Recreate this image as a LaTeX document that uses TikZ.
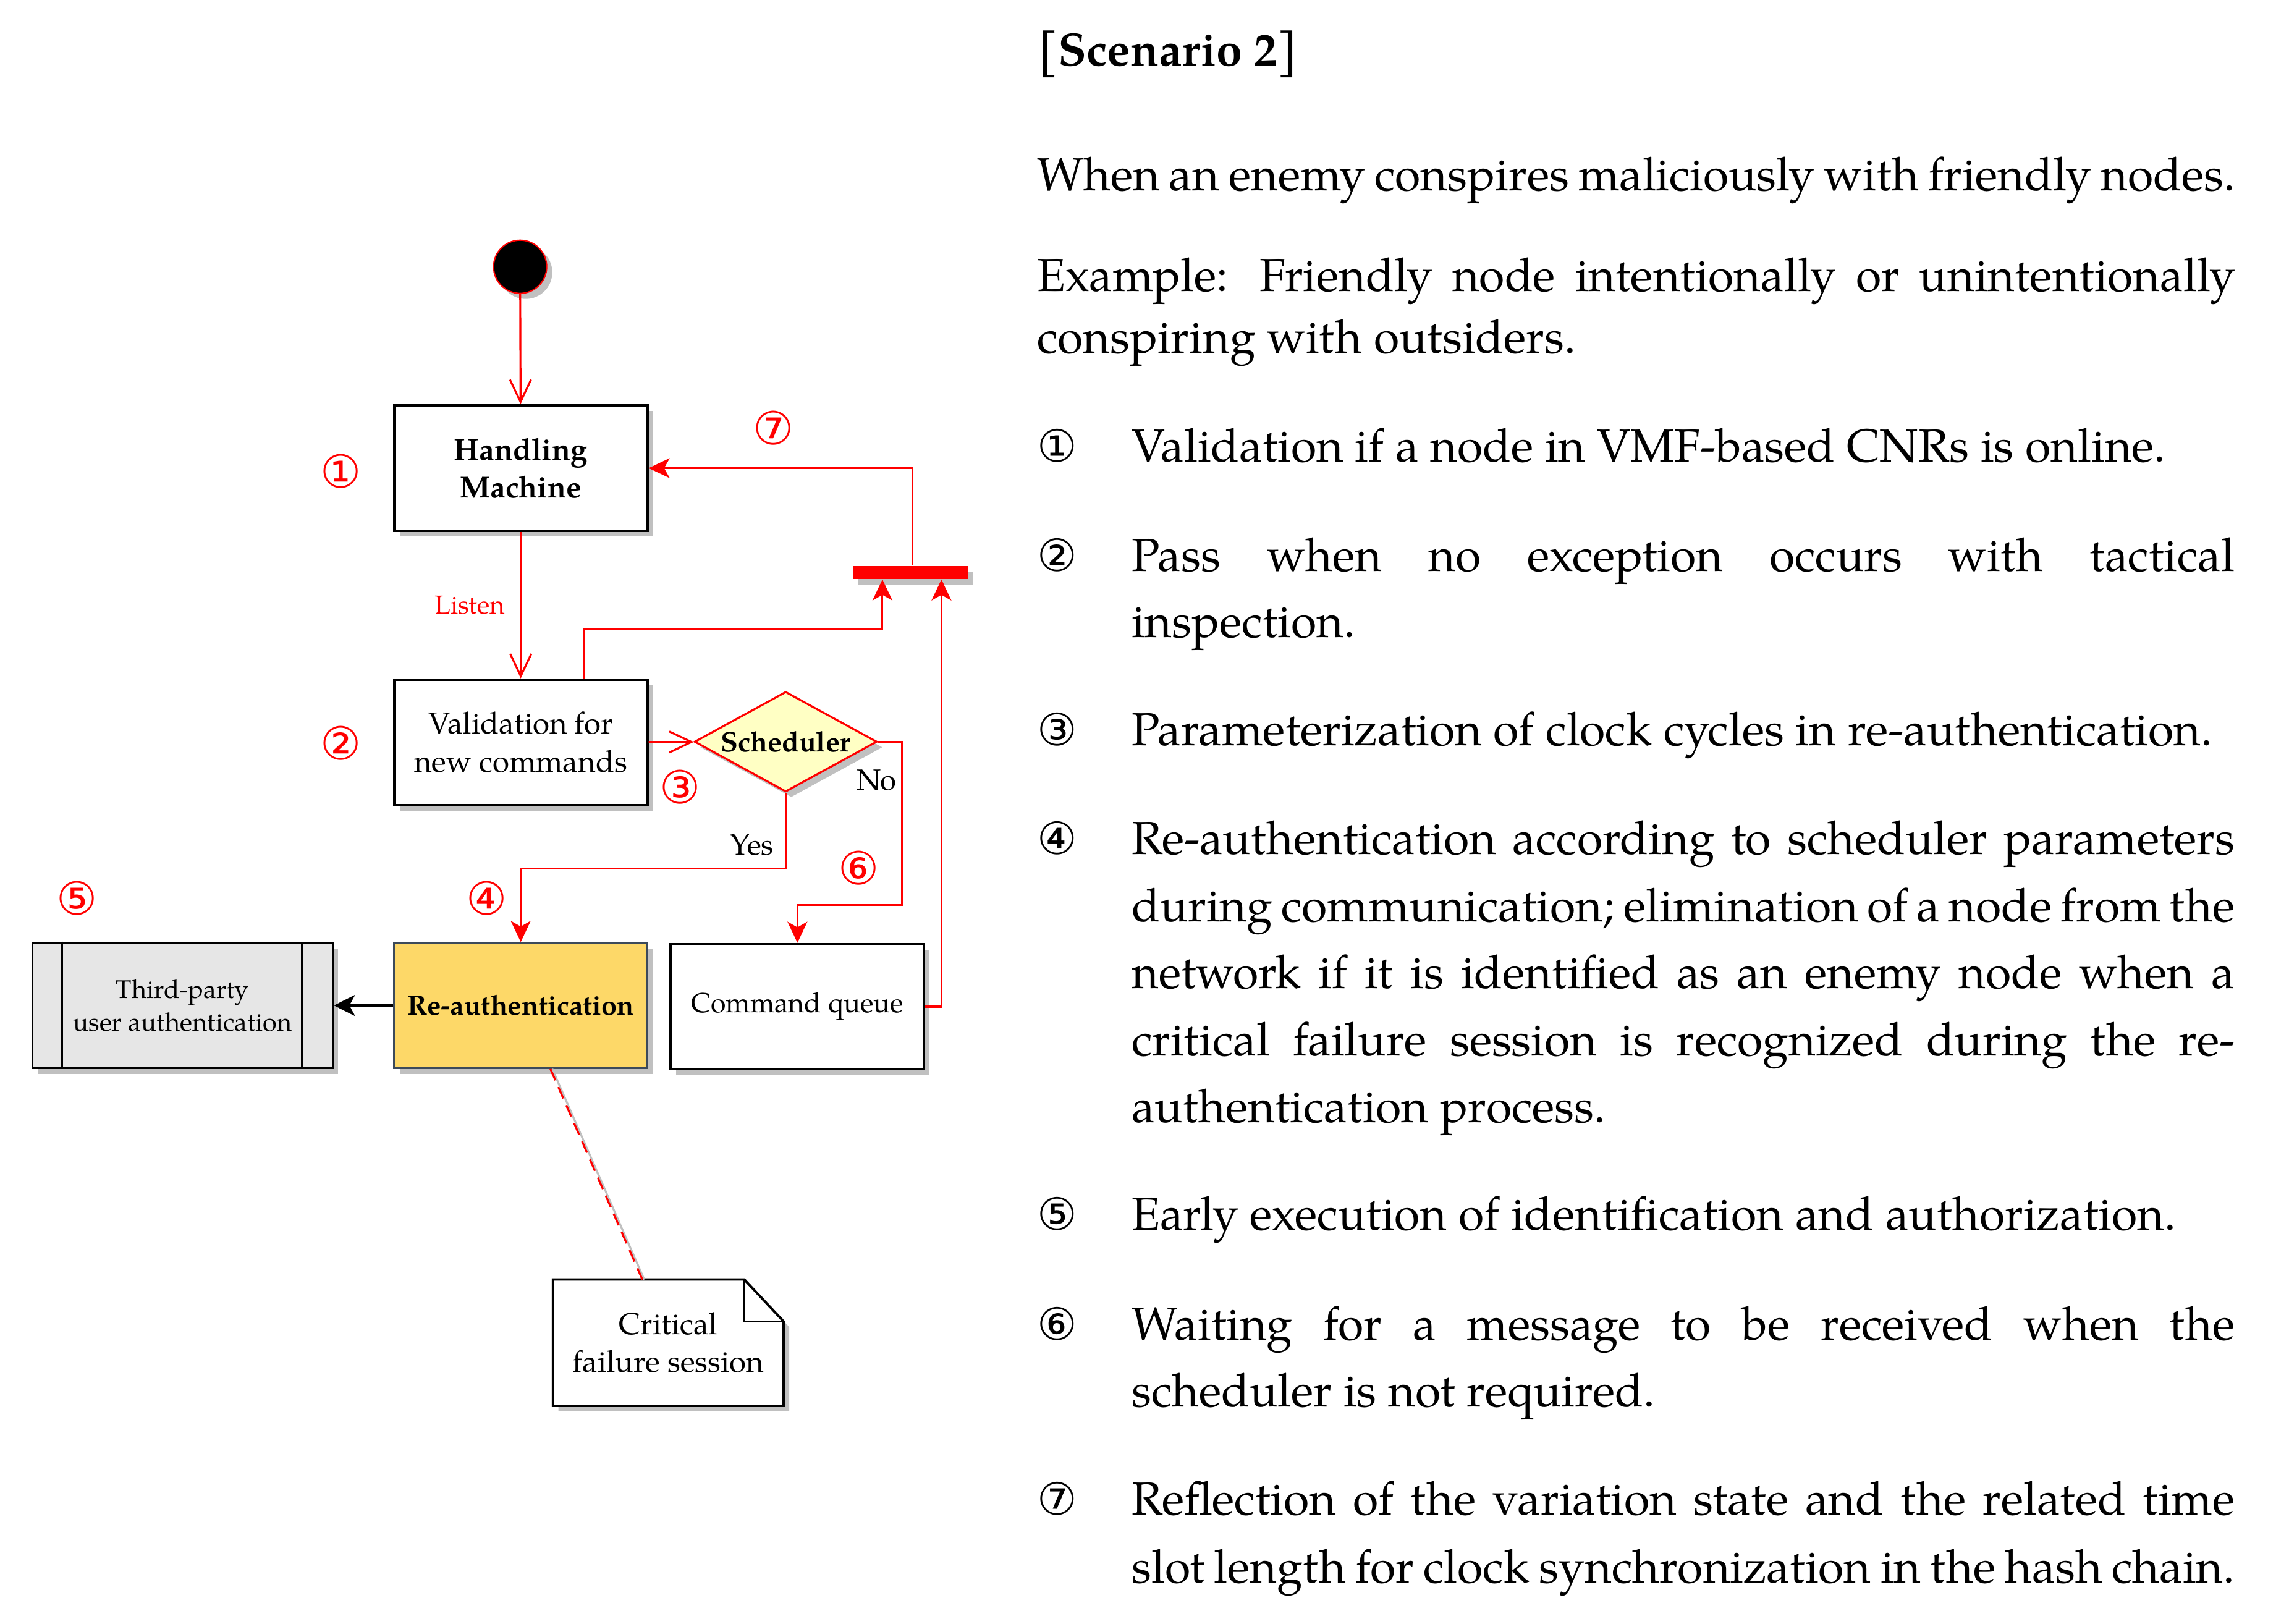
\documentclass[tikz,border=0pt]{standalone}
\usepackage{fontspec}
\setmainfont{TeX Gyre Pagella}
\newfontfamily\circfont{DejaVu Sans}
\usetikzlibrary{arrows.meta,shapes.geometric,shadows,backgrounds,calc}
\definecolor{rauth}{HTML}{FDD868}
\definecolor{schfill}{HTML}{FFFFC4}
\definecolor{tpfill}{HTML}{E6E6E6}
\definecolor{shadowgray}{HTML}{C0C0C0}
\definecolor{rabord}{HTML}{3C4A5A}
\newcommand\boxfont{\fontsize{14pt}{17.5pt}\selectfont}
\newcommand\schfont{\fontsize{13pt}{15pt}\selectfont}
\newcommand\cqfont{\fontsize{12.7pt}{15pt}\selectfont}
\newcommand\tpfont{\fontsize{11.8pt}{15pt}\selectfont}
\newcommand\rafont{\fontsize{12.75pt}{15pt}\selectfont}
\newcommand\bodyfont{\fontsize{21.4pt}{26pt}\selectfont}
\tikzset{
  shd/.style={drop shadow={shadow xshift=0.09cm,shadow yshift=-0.09cm,fill=shadowgray,opacity=1}},
  box/.style={draw=black,line width=1.1pt,fill=white,minimum width=4.10cm,minimum height=2.03cm,inner sep=0pt,align=center,shd},
  rl/.style={draw=red,line width=0.9pt},
  openhead/.style={-{Straight Barb[length=3.6mm,width=3.4mm]}},
  fillhead/.style={-{Stealth[length=3.4mm,width=3.2mm,inset=0.9mm]}},
  circlab/.style={text=red,font=\circfont\fontsize{21pt}{21pt}\selectfont,inner sep=0pt},
  blab/.style={font=\fontsize{13.5pt}{16pt}\selectfont,inner sep=0pt},
  body/.style={anchor=base west,inner sep=0pt,font=\bodyfont},
  num/.style={anchor=base west,inner sep=0pt,font=\circfont\fontsize{20.5pt}{20.5pt}\selectfont},
}
\begin{document}
\begin{tikzpicture}[x=0.00995cm,y=-0.01cm]
\useasboundingbox (0cm,0cm) rectangle (37.04cm,-26.28cm);

% ---------- diagram nodes ----------
\node[circle,fill=black,draw=red,line width=0.6pt,minimum size=0.86cm,inner sep=0pt,shd] (start) at (846,432) {};
\node[box,font=\boxfont\bfseries] (hm) at (847,758) {Handling\\Machine};
\node[box,font=\boxfont] (val) at (847,1202) {Validation for\\new commands};
\node[diamond,aspect=1.83,draw=red,line width=0.9pt,fill=schfill,minimum width=2.955cm,minimum height=1.62cm,inner sep=0pt,font=\schfont\bfseries,shd] (sch) at (1278,1201) {Scheduler};
\node[box,fill=rauth,draw=rabord,line width=0.7pt,font=\rafont\bfseries] (ra) at (847,1628) {Re-authentication};
\node[box,font=\cqfont] (cq) at (1297,1630) {Command queue};
\node[box,fill=tpfill,minimum width=4.86cm,font=\tpfont] (tp) at (297,1628) {Third-party\\user authentication};
\draw[line width=1.1pt] ([xshift=0.5cm]tp.north west) -- ([xshift=0.5cm]tp.south west);
\draw[line width=1.1pt] ([xshift=-0.51cm]tp.north east) -- ([xshift=-0.51cm]tp.south east);
\node[fill=red,minimum width=1.86cm,minimum height=0.21cm,inner sep=0pt,shd] (bar) at (1481,927) {};
\node[minimum width=3.72cm,minimum height=2.03cm,inner sep=0pt,align=center,font=\boxfont] (note) at (1087,2174) {Critical\\failure session};
\path (note.north west) coordinate (nnw) (note.north east) coordinate (nne)
      (note.south east) coordinate (nse) (note.south west) coordinate (nsw);
\begin{scope}[on background layer]
  \fill[shadowgray] ($(nnw)+(9,9)$) -- ($(nne)+(-55,9)$) -- ($(nne)+(9,77)$) -- ($(nse)+(9,9)$) -- ($(nsw)+(9,9)$) -- cycle;
  \filldraw[fill=white,draw=black,line width=1.1pt] (nnw) -- ($(nne)+(-64,0)$) -- ($(nne)+(0,68)$) -- (nse) -- (nsw) -- cycle;
  \draw[line width=1.1pt] ($(nne)+(-64,0)$) -- ($(nne)+(-64,68)$) -- ($(nne)+(0,68)$);
\end{scope}

% ---------- connectors ----------
\draw[rl,openhead] (start) -- (hm);
\draw[rl,openhead] (hm) -- node[left=0.24cm,text=red,font=\fontsize{12pt}{14pt}\selectfont,inner sep=0pt] (listen) {Listen} (val);
\draw[rl,openhead] (val) -- (sch);
\draw[rl,fillhead] ([xshift=1.02cm]val.north) -- ++(0,-79) -| ([xshift=-0.455cm]bar.south);
\draw[rl,fillhead] (cq.east) -| ([xshift=0.5cm]bar.south);
\draw[rl,fillhead] ([xshift=0.03cm]bar.north) |- (hm.east);
\draw[rl,fillhead] (sch.south) -- ++(0,123) -| (ra.north);
\draw[rl,fillhead] (sch.east) -- ++(39,0) |- ([yshift=0.61cm]cq.north) -- (cq.north);
\draw[line width=1.1pt,-{Stealth[length=3.4mm,width=3.4mm,inset=0.9mm]}] (ra) -- (tp);
\draw[shadowgray,line width=0.9pt] ([xshift=0.51cm]ra.south) -- ([xshift=-0.39cm]note.north);
\draw[rl,dash pattern=on 2mm off 1.2mm] ([xshift=0.48cm]ra.south) -- ([xshift=-0.42cm]note.north);

% ---------- labels ----------
\node[circlab] (n1) at (554,763) {①};
\node[circlab] (n2) at (554,1203) {②};
\node[circlab] (n3) at (1106,1274) {③};
\node[circlab] (n4) at (792,1454) {④};
\node[circlab] (n5) at (125,1454) {⑤};
\node[circlab] (n6) at (1397,1405) {⑥};
\node[circlab] (n7) at (1258,693) {⑦};
\node[blab] (yes) at (1223,1368) {Yes};
\node[blab] (no) at (1426,1263) {No};

% ---------- text column ----------
\node[body,font=\bodyfont\bfseries] (t0) at (1686,107) {[Scenario 2]};
\node[body] (t1) at (1686,309) {\makebox[19.39cm][s]{When an enemy conspires maliciously with friendly nodes.}};
\node[body] (t2) at (1686,472) {\makebox[19.39cm][s]{Example: Friendly node intentionally or unintentionally}};
\node[body] (t3) at (1686,572) {conspiring with outsiders.};

\node[num] (c1) at (1686,748) {①};
\node[body] (i1a) at (1840,748) {Validation if a node in VMF-based CNRs is online.};
\node[num] (c2) at (1686,925) {②};
\node[body] (i2a) at (1840,925) {\makebox[17.85cm][s]{Pass when no exception occurs with tactical}};
\node[body] (i2b) at (1840,1032) {inspection.};
\node[num] (c3) at (1686,1207) {③};
\node[body] (i3a) at (1840,1207) {Parameterization of clock cycles in re-authentication.};
\node[num] (c4) at (1686,1383) {④};
\node[body] (i4a) at (1840,1383) {\makebox[17.85cm][s]{Re-authentication according to scheduler parameters}};
\node[body] (i4b) at (1840,1492) {\makebox[17.85cm][s]{during communication; elimination of a node from the}};
\node[body] (i4c) at (1840,1600) {\makebox[17.85cm][s]{network if it is identified as an enemy node when a}};
\node[body] (i4d) at (1840,1709) {\makebox[17.85cm][s]{critical failure session is recognized during the re-}};
\node[body] (i4e) at (1840,1818) {authentication process.};
\node[num] (c5) at (1686,1992) {⑤};
\node[body] (i5a) at (1840,1992) {Early execution of identification and authorization.};
\node[num] (c6) at (1686,2170) {⑥};
\node[body] (i6a) at (1840,2170) {\makebox[17.85cm][s]{Waiting for a message to be received when the}};
\node[body] (i6b) at (1840,2278) {scheduler is not required.};
\node[num] (c7) at (1686,2453) {⑦};
\node[body] (i7a) at (1840,2453) {\makebox[17.85cm][s]{Reflection of the variation state and the related time}};
\node[body] (i7b) at (1840,2563) {\makebox[17.85cm][s]{slot length for clock synchronization in the hash chain.}};
\end{tikzpicture}
\end{document}
